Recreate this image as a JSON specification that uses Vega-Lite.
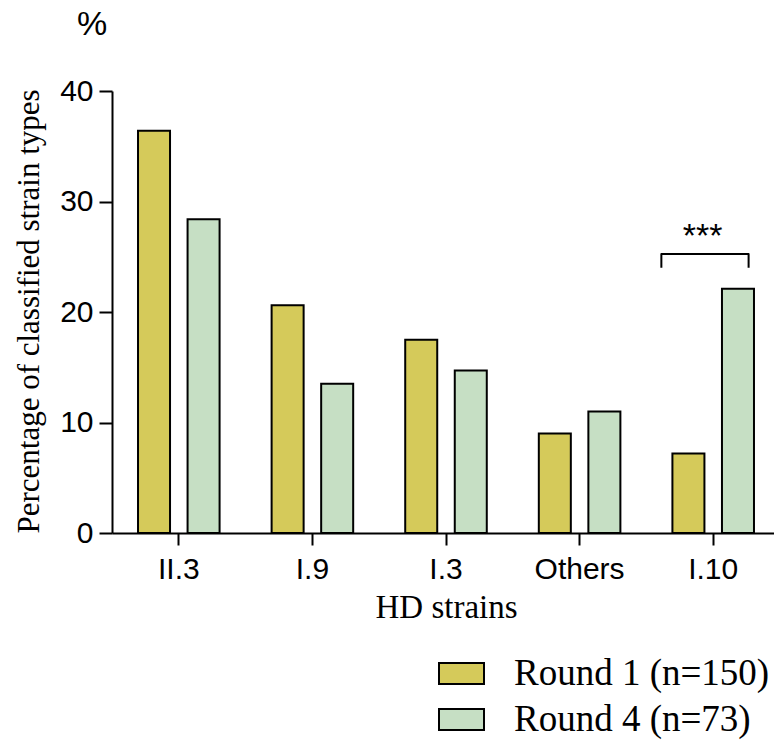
{
  "$schema": "https://vega.github.io/schema/vega-lite/v6.json",
  "width": 662,
  "height": 442,
  "autosize": {"type": "none"},
  "padding": {"left": 112, "top": 91, "right": 0, "bottom": 207},
  "background": "white",
  "title": {"text": "%", "anchor": "start", "frame": "group", "dx": -35, "offset": 34, "font": "Liberation Sans", "fontSize": 34, "fontWeight": "normal", "color": "black"},
  "config": {"view": {"stroke": null}, "axis": {"grid": false}},
  "layer": [
    {
      "data": {"values": [
        {"strain": "II.3", "round": "Round 1 (n=150)", "percent": 36.4},
        {"strain": "II.3", "round": "Round 4 (n=73)", "percent": 28.4},
        {"strain": "I.9", "round": "Round 1 (n=150)", "percent": 20.6},
        {"strain": "I.9", "round": "Round 4 (n=73)", "percent": 13.5},
        {"strain": "I.3", "round": "Round 1 (n=150)", "percent": 17.5},
        {"strain": "I.3", "round": "Round 4 (n=73)", "percent": 14.7},
        {"strain": "Others", "round": "Round 1 (n=150)", "percent": 9.0},
        {"strain": "Others", "round": "Round 4 (n=73)", "percent": 11.0},
        {"strain": "I.10", "round": "Round 1 (n=150)", "percent": 7.2},
        {"strain": "I.10", "round": "Round 4 (n=73)", "percent": 22.1}
      ]},
      "mark": {"type": "bar", "stroke": "black", "strokeWidth": 2},
      "encoding": {
        "x": {
          "field": "strain", "type": "nominal",
          "sort": ["II.3", "I.9", "I.3", "Others", "I.10"],
          "scale": {"range": [0, 668], "paddingInner": 0, "paddingOuter": 0},
          "axis": {
            "title": "HD strains", "titleFont": "Liberation Serif", "titleFontSize": 33, "titleFontWeight": "normal", "titleColor": "black", "titlePadding": 7,
            "labelFont": "Liberation Sans", "labelFontSize": 30, "labelColor": "black", "labelAngle": 0, "labelPadding": 9,
            "domainColor": "black", "domainWidth": 2, "tickColor": "black", "tickWidth": 2, "tickSize": 12
          }
        },
        "xOffset": {"field": "round", "type": "nominal", "scale": {"paddingInner": 0.354, "paddingOuter": 0.525}},
        "y": {
          "field": "percent", "type": "quantitative",
          "scale": {"domain": [0, 40]},
          "axis": {
            "values": [0, 10, 20, 30, 40],
            "title": "Percentage of classified strain types", "titleFont": "Liberation Serif", "titleFontSize": 31, "titleFontWeight": "normal", "titleColor": "black",
            "titleX": -83, "titleY": 220, "titleAngle": -90, "titleAlign": "center", "titleBaseline": "middle",
            "labelFont": "Liberation Sans", "labelFontSize": 30, "labelColor": "black", "labelPadding": 6,
            "domainColor": "black", "domainWidth": 2, "tickColor": "black", "tickWidth": 2, "tickSize": 13
          }
        },
        "fill": {
          "field": "round", "type": "nominal",
          "scale": {"range": ["#d5ca5a", "#c6dfc4"]},
          "legend": {
            "title": null, "orient": "none", "legendX": 326, "legendY": 559,
            "symbolType": "M-1,-0.467H1V0.467H-1Z", "symbolSize": 2025, "symbolStrokeColor": "black", "symbolStrokeWidth": 2, "symbolOpacity": 1,
            "labelFont": "Liberation Serif", "labelFontSize": 37, "labelColor": "black", "labelOffset": 29, "labelLimit": 400,
            "rowPadding": 4
          }
        }
      }
    },
    {
      "data": {"values": [
        {"pos": 4.112, "level": 24.0, "seq": 1},
        {"pos": 4.112, "level": 25.25, "seq": 2},
        {"pos": 4.765, "level": 25.25, "seq": 3},
        {"pos": 4.765, "level": 24.0, "seq": 4}
      ]},
      "mark": {"type": "line", "stroke": "black", "strokeWidth": 2, "strokeJoin": "round"},
      "encoding": {
        "x": {"field": "pos", "type": "quantitative", "scale": {"domain": [0, 5], "range": [0, 668]}, "axis": null},
        "y": {"field": "level", "type": "quantitative"},
        "order": {"field": "seq"}
      }
    },
    {
      "data": {"values": [{"pos": 4.42, "level": 27.3, "label": "***"}]},
      "mark": {"type": "text", "font": "Liberation Sans", "fontSize": 34, "baseline": "middle", "dy": 6, "color": "black"},
      "encoding": {
        "x": {"field": "pos", "type": "quantitative", "scale": {"domain": [0, 5], "range": [0, 668]}, "axis": null},
        "y": {"field": "level", "type": "quantitative"},
        "text": {"field": "label"}
      }
    }
  ],
  "resolve": {"scale": {"x": "independent"}}
}
